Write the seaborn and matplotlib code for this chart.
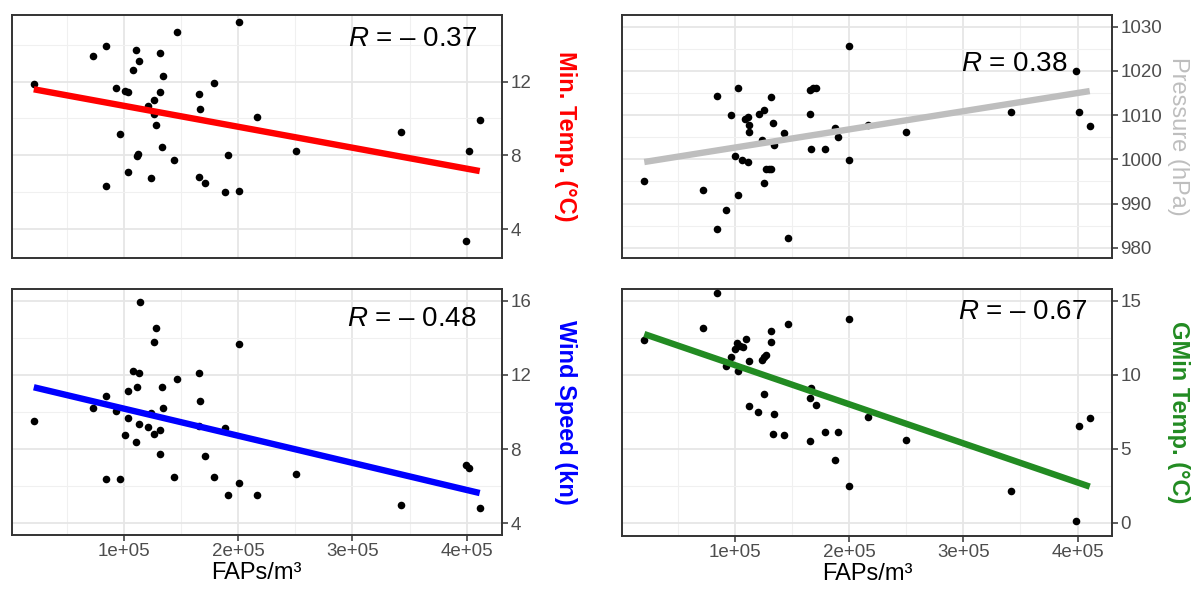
import numpy as np
import pandas as pd
import seaborn as sns
import matplotlib
matplotlib.use("Agg")
import matplotlib.pyplot as plt
from matplotlib.ticker import MultipleLocator, FixedLocator

# ---------------- data ----------------
fap_mintemp = [20900, 72400, 84500, 84500, 92600, 96600, 100700, 103400, 103400, 107400,
               110100, 112800, 112500, 111500, 120900, 123600, 126300, 126300, 127600, 131600,
               131600, 133000, 134300, 143800, 146500, 165300, 166700, 165300, 171000, 179100,
               188600, 191200, 200700, 200700, 216800, 250500, 342800, 399300, 402000, 411400]
mintemp = [11.84, 13.4, 13.9, 6.37, 11.66, 9.18, 11.5, 11.42, 7.1, 12.65,
           13.73, 13.1, 8.06, 7.98, 10.67, 6.77, 11.0, 10.26, 9.66, 13.56,
           11.42, 8.44, 12.3, 7.77, 14.7, 11.33, 10.5, 6.86, 6.53, 11.9,
           6.0, 8.0, 15.2, 6.1, 10.1, 8.26, 9.27, 3.38, 8.26, 9.91]

fap_pressure = [20500, 71900, 83900, 83900, 92500, 96100, 100100, 102700, 102700, 106400,
                109000, 111000, 111700, 112000, 112000, 120600, 123300, 125600, 125600, 127000,
                129600, 131600, 131600, 132900, 133900, 143200, 146500, 165400, 168000, 170700,
                165400, 166700, 178700, 187900, 190600, 200200, 200200, 216100, 249900, 342100,
                399100, 401700, 410700]
pressure = [995.0, 993.0, 1014.4, 984.3, 988.5, 1010.0, 1000.7, 1016.2, 992.0, 999.9,
            1009.2, 999.3, 1009.5, 1007.7, 1006.2, 1010.2, 1004.3, 1011.1, 994.7, 997.8,
            997.8, 997.8, 1014.1, 1008.3, 1003.3, 1005.9, 982.3, 1015.7, 1016.1, 1016.2,
            1010.3, 1002.4, 1002.4, 1007.1, 1005.0, 1025.5, 999.9, 1007.8, 1006.1, 1010.6,
            1020.0, 1010.6, 1007.6]

fap_wind = [20900, 72400, 84500, 84500, 92600, 96600, 100700, 103400, 103400, 107400,
            110100, 111400, 112800, 112800, 113500, 120900, 123600, 126300, 126300, 127600,
            131600, 131600, 133000, 134300, 143800, 146500, 165300, 166700, 165300, 171000,
            179100, 188600, 191200, 200700, 200700, 216800, 250500, 342800, 399300, 402000,
            411400]
wind = [9.54, 10.2, 10.87, 6.4, 10.06, 6.4, 8.75, 11.13, 9.7, 12.21,
        8.39, 11.37, 12.12, 9.37, 15.91, 9.21, 9.93, 13.76, 8.82, 14.51,
        7.72, 9.05, 11.37, 10.22, 6.48, 11.78, 12.1, 10.61, 9.27, 7.63,
        6.48, 9.16, 5.5, 13.67, 6.16, 5.5, 6.66, 5.0, 7.15, 6.97,
        4.81]

fap_gmin = [20500, 71900, 83900, 92100, 96100, 100100, 102700, 101800, 104000, 106700,
            110000, 112000, 112400, 120300, 123300, 125600, 127000, 125600, 131600, 131600,
            133900, 132900, 143200, 146500, 165400, 166700, 165400, 170700, 178700, 187900,
            190600, 200200, 200200, 216100, 249900, 342100, 399100, 401700, 410700]
gmin = [12.34, 13.18, 15.5, 10.59, 11.22, 11.71, 10.27, 12.16, 11.95, 11.9,
        12.39, 10.92, 7.9, 7.48, 10.99, 11.17, 11.33, 8.72, 12.97, 12.23,
        7.36, 6.01, 5.9, 13.4, 8.4, 9.14, 5.5, 7.97, 6.1, 4.26,
        6.1, 13.8, 2.5, 7.16, 5.59, 2.16, 0.11, 6.53, 7.05]

y_labels = ["Min. Temp. (°C)", "Pressure (hPa)", "Wind Speed (kn)", "GMin Temp. (°C)"]
r_values = ["\u2013 0.37", "0.38", "\u2013 0.48", "\u2013 0.67"]
x_tick_values = [100000, 200000, 300000, 400000]
x_tick_labels = ["1e+05", "2e+05", "3e+05", "4e+05"]
y_ticks = [[4, 8, 12], [980, 990, 1000, 1010, 1020, 1030], [4, 8, 12, 16], [0, 5, 10, 15]]
y_minor_step = [2, 5, 2, 2.5]
y_limits = [(2.45, 15.6), (977.7, 1032.6), (3.37, 16.63), (-0.9, 15.8)]

# ---------------- style ----------------
sns.set_theme(style="white")
plt.rcParams["font.family"] = ["Liberation Sans", "DejaVu Sans"]
plt.rcParams["mathtext.fontset"] = "custom"
plt.rcParams["mathtext.it"] = "Liberation Sans:italic"
plt.rcParams["mathtext.rm"] = "Liberation Sans"

line_colors = ["#FF0000", "#BEBEBE", "#0000FF", "#228B22"]
label_colors = ["#FF0000", "#BEBEBE", "#0000FF", "#228B22"]
label_weights = ["bold", "normal", "bold", "bold"]

W, H = 1191, 595
fig = plt.figure(figsize=(W / 100, H / 100), dpi=100)
fig.patch.set_facecolor("white")

# axes rectangles in pixels: left, right, top, bottom
rects = [(11.5, 502, 15, 258), (622, 1112, 15, 258),
         (11.5, 502, 289, 535), (622, 1112, 289, 536)]
label_x = [1.130, 1.135, 1.130, 1.135]
r_pos = [(0.949, 0.90), (0.910, 0.80), (0.949, 0.878), (0.949, 0.907)]

xs = [fap_mintemp, fap_pressure, fap_wind, fap_gmin]
ys = [mintemp, pressure, wind, gmin]

for i in range(4):
    l, r, t, b = rects[i]
    ax = fig.add_axes([l / W, (H - b) / H, (r - l) / W, (b - t) / H])
    df = pd.DataFrame({"x": xs[i], "y": ys[i]})
    sns.regplot(data=df, x="x", y="y", ci=None, ax=ax,
                scatter_kws=dict(color="black", s=30, linewidths=0, zorder=3, alpha=1),
                line_kws=dict(color=line_colors[i], lw=4.6, zorder=4, solid_capstyle="butt"))
    xmin, xmax = df["x"].min(), df["x"].max()
    ax.set_xlim(xmin - 0.05 * (xmax - xmin), xmax + 0.05 * (xmax - xmin))
    ax.set_ylim(*y_limits[i])

    ax.xaxis.set_major_locator(FixedLocator(x_tick_values))
    ax.xaxis.set_minor_locator(MultipleLocator(50000))
    ax.yaxis.set_major_locator(FixedLocator(y_ticks[i]))
    ax.yaxis.set_minor_locator(MultipleLocator(y_minor_step[i]))
    ax.grid(True, which="major", color="#E6E6E6", lw=1.3)
    ax.grid(True, which="minor", color="#F0F0F0", lw=0.8)
    ax.set_axisbelow(True)

    ax.yaxis.tick_right()
    ax.yaxis.set_label_position("right")
    ax.tick_params(axis="y", which="major", direction="out", length=4, width=1.1,
                   color="#333333", labelcolor="#4D4D4D", labelsize=13.5, pad=2,
                   right=True, left=False)
    ax.tick_params(axis="both", which="minor", length=0)

    if i < 2:
        ax.tick_params(axis="x", which="major", bottom=False, labelbottom=False)
        ax.set_xlabel("")
    else:
        ax.set_xticklabels(x_tick_labels)
        ax.tick_params(axis="x", which="major", direction="out", length=4, width=1.1,
                       color="#333333", labelcolor="#4D4D4D", labelsize=13.5, pad=2,
                       bottom=True)
        ax.set_xlabel("FAPs/m³", fontsize=17, color="black", labelpad=1)

    ax.set_ylabel(y_labels[i], fontsize=17, color=label_colors[i],
                  fontweight=label_weights[i], rotation=-90)
    ax.yaxis.set_label_coords(label_x[i], 0.5)
    ax.yaxis.label.set_va("center")
    ax.yaxis.label.set_ha("center")

    for sp in ax.spines.values():
        sp.set_visible(True)
        sp.set_color("#333333")
        sp.set_linewidth(1.4)

    ax.text(r_pos[i][0], r_pos[i][1], r"$R$ = " + r_values[i], transform=ax.transAxes,
            ha="right", va="center", fontsize=20, color="black", zorder=6)

fig.savefig("out.png", dpi=100, facecolor="white")
